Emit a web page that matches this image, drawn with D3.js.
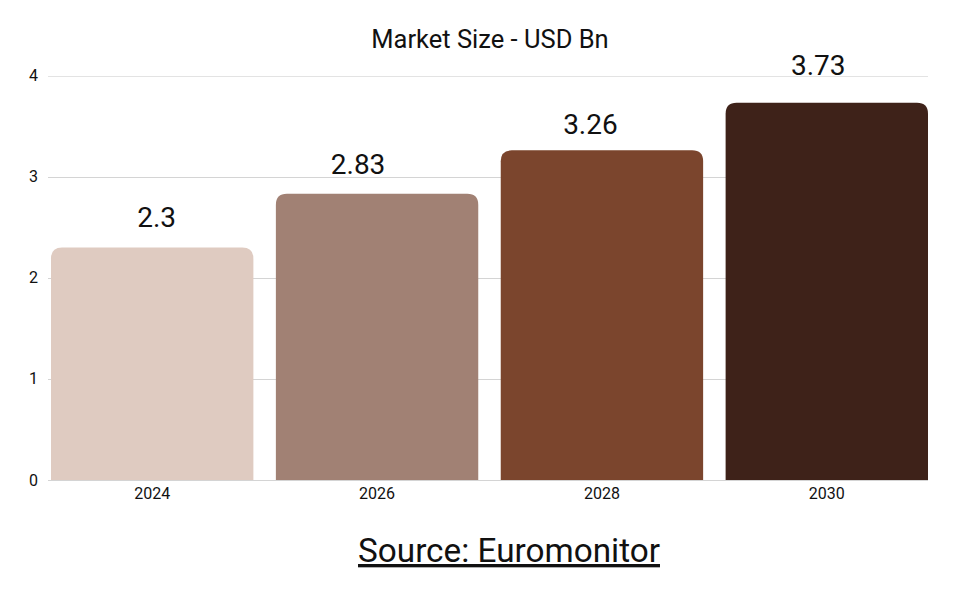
<!DOCTYPE html>
<html>
<head>
<meta charset="utf-8">
<script src="https://cdn.jsdelivr.net/npm/d3@7"></script>
<style>
  body { margin: 0; background: #fff; }
  svg text { font-family: Roboto, "Noto Sans", sans-serif; fill: #111; }
</style>
</head>
<body>
<svg id="chart" width="961" height="601"></svg>
<script>
var years = ["2024", "2026", "2028", "2030"];
var values = [2.3, 2.83, 3.26, 3.73];
var colors = ["#dfcbc1", "#a18174", "#7b452d", "#3e2219"];
var y_ticks = [0, 1, 2, 3, 4];

// the value labels in the original sit a little off the bar centres
var label_dx = [4.5, -19, -11.5, -8.5];
var label_gap = [20, 20, 16.5, 28];

var svg = d3.select("#chart");
var plot_left = 51, plot_right = 928, plot_top = 75.5, plot_bottom = 480;
var radius = 11;

var x = d3.scaleBand().domain(years).range([plot_left, plot_right]).paddingInner(0.1).paddingOuter(0);
var y = d3.scaleLinear().domain([0, 4]).range([plot_bottom, plot_top]);

// gridlines
svg.append("g").selectAll("line")
    .data(y_ticks)
    .enter()
    .append("line")
        .attr("x1", 48)
        .attr("x2", plot_right)
        .attr("y1", function(d) { return Math.round(y(d)) + 0.5; })
        .attr("y2", function(d) { return Math.round(y(d)) + 0.5; })
        .attr("stroke", function(d) { return d == 4 ? "#e3e3e3" : "#d4d4d4"; })
        .attr("stroke-width", 1);

svg.append("g").selectAll("text")
    .data(y_ticks)
    .enter()
    .append("text")
        .attr("x", 38)
        .attr("y", function(d) { return y(d); })
        .attr("dy", "0.35em")
        .attr("text-anchor", "end")
        .style("font-size", "16px")
        .text(function(d) { return d; });

// bars with rounded top corners
var bar_path = function(d, i) {
    var x0 = x(years[i]), w = x.bandwidth();
    var y0 = y(d), y1 = y(0), r = radius;
    return "M" + x0 + "," + y1 +
        "V" + (y0 + r) +
        "Q" + x0 + "," + y0 + " " + (x0 + r) + "," + y0 +
        "H" + (x0 + w - r) +
        "Q" + (x0 + w) + "," + y0 + " " + (x0 + w) + "," + (y0 + r) +
        "V" + y1 + "Z";
};

svg.append("g").selectAll("path")
    .data(values)
    .enter()
    .append("path")
        .attr("d", bar_path)
        .attr("fill", function(d, i) { return colors[i]; });

svg.append("g").selectAll("text")
    .data(values)
    .enter()
    .append("text")
        .attr("x", function(d, i) { return x(years[i]) + x.bandwidth() / 2 + label_dx[i]; })
        .attr("y", function(d, i) { return y(d) - label_gap[i]; })
        .attr("text-anchor", "middle")
        .style("font-size", "28px")
        .text(function(d) { return d; });

// x axis labels
svg.append("g").selectAll("text")
    .data(years)
    .enter()
    .append("text")
        .attr("x", function(d) { return x(d) + x.bandwidth() / 2; })
        .attr("y", 499)
        .attr("text-anchor", "middle")
        .style("font-size", "16px")
        .text(function(d) { return d; });

svg.append("text")
    .attr("x", 490)
    .attr("y", 48)
    .attr("text-anchor", "middle")
    .style("font-size", "25.5px")
    .text("Market Size - USD Bn");

svg.append("text")
    .attr("x", 509)
    .attr("y", 562)
    .attr("text-anchor", "middle")
    .style("font-size", "33.3px")
    .style("text-decoration", "underline")
    .text("Source: Euromonitor");
</script>
</body>
</html>
